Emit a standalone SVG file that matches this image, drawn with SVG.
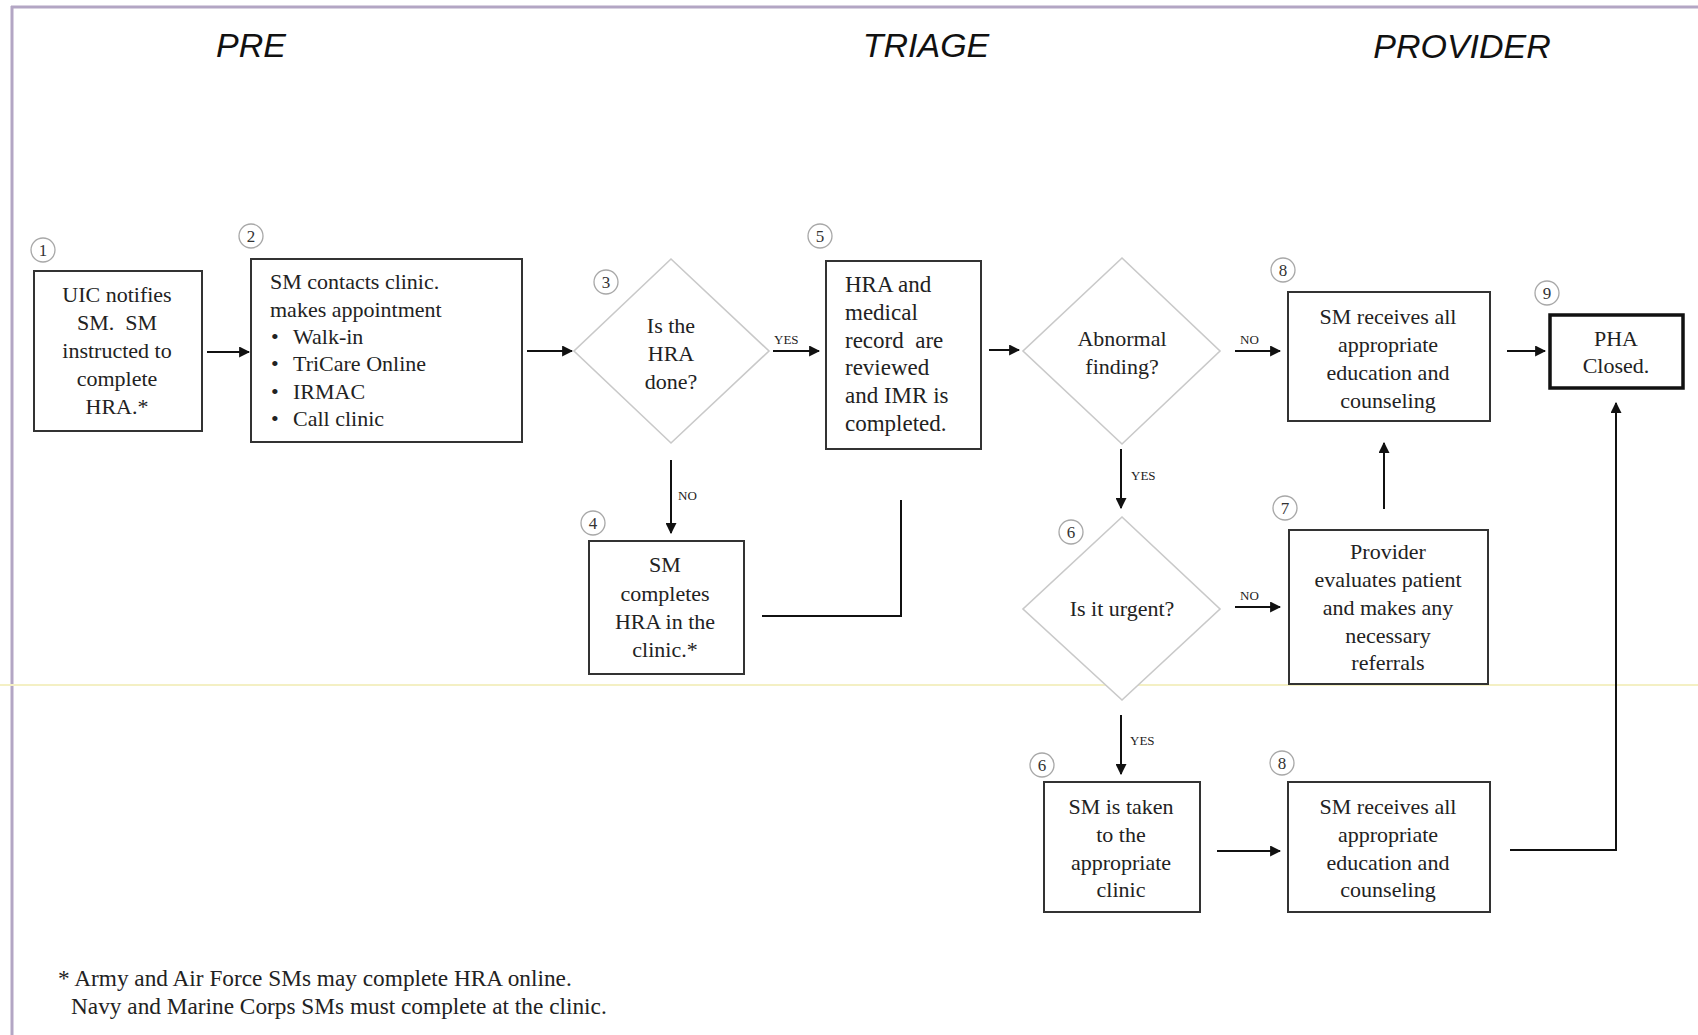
<svg xmlns="http://www.w3.org/2000/svg" width="1698" height="1035" viewBox="0 0 1698 1035">
<defs>
<marker id="ah" viewBox="0 0 10 10" refX="9" refY="5" markerWidth="5.5" markerHeight="5.5" orient="auto" markerUnits="strokeWidth">
<path d="M0,0 L10,5 L0,10 z" fill="#111"/>
</marker>
<style>
.box{fill:#fff;stroke:#333;stroke-width:2}
.dia{fill:#fff;stroke:#c9c9c9;stroke-width:1.6}
.t{font-family:"Liberation Serif",serif;font-size:22px;fill:#222}
.tc{text-anchor:middle}
.num{fill:#fff;stroke:#a8a8a8;stroke-width:1.3}
.nt{font-family:"Liberation Serif",serif;font-size:17px;fill:#333;text-anchor:middle}
.lbl{font-family:"Liberation Serif",serif;font-size:13px;fill:#222}
.hd{font-family:"Liberation Sans",sans-serif;font-style:italic;font-size:34px;fill:#111;text-anchor:middle}
.c{fill:none;stroke:#111;stroke-width:2}
.pre{white-space:pre}
</style>
</defs>
<rect width="1698" height="1035" fill="#fff"/>
<!-- frame -->
<line x1="11" y1="7" x2="1698" y2="7" stroke="#b3a6c4" stroke-width="3"/>
<line x1="12" y1="6" x2="12" y2="1035" stroke="#b3a6c4" stroke-width="3"/>
<line x1="0" y1="685" x2="1698" y2="685" stroke="#f4f0c4" stroke-width="2"/>
<!-- headers -->
<text class="hd" x="251" y="57">PRE</text>
<text class="hd" x="926" y="57">TRIAGE</text>
<text class="hd" x="1462" y="58">PROVIDER</text>

<!-- connectors -->
<g id="connectors">
<line class="c" x1="207" y1="352" x2="249" y2="352" marker-end="url(#ah)"/>
<line class="c" x1="527" y1="351" x2="572" y2="351" marker-end="url(#ah)"/>
<line class="c" x1="773" y1="351" x2="819" y2="351" marker-end="url(#ah)"/>
<text class="lbl" x="774" y="344">YES</text>
<line class="c" x1="671" y1="460" x2="671" y2="533" marker-end="url(#ah)"/>
<text class="lbl" x="678" y="500">NO</text>
<polyline class="c" points="762,616 901,616 901,500"/>
<line class="c" x1="989" y1="350" x2="1019" y2="350" marker-end="url(#ah)"/>
<line class="c" x1="1235" y1="351" x2="1280" y2="351" marker-end="url(#ah)"/>
<text class="lbl" x="1240" y="344">NO</text>
<line class="c" x1="1507" y1="351" x2="1545" y2="351" marker-end="url(#ah)"/>
<line class="c" x1="1121" y1="449" x2="1121" y2="508" marker-end="url(#ah)"/>
<text class="lbl" x="1131" y="480">YES</text>
<line class="c" x1="1235" y1="607" x2="1280" y2="607" marker-end="url(#ah)"/>
<text class="lbl" x="1240" y="600">NO</text>
<line class="c" x1="1384" y1="509" x2="1384" y2="443" marker-end="url(#ah)"/>
<line class="c" x1="1121" y1="715" x2="1121" y2="774" marker-end="url(#ah)"/>
<text class="lbl" x="1130" y="745">YES</text>
<line class="c" x1="1217" y1="851" x2="1280" y2="851" marker-end="url(#ah)"/>
<polyline class="c" points="1510,850 1616,850 1616,403" marker-end="url(#ah)"/>
</g>

<g id="n1">
<rect class="box" x="34" y="271" width="168" height="160"/>
<circle class="num" cx="43" cy="250" r="12"/><text class="nt" x="43" y="256">1</text>
<text class="t tc" x="117" y="302">UIC notifies</text>
<text class="t tc pre" x="117" y="330">SM.  SM</text>
<text class="t tc" x="117" y="358">instructed to</text>
<text class="t tc" x="117" y="386">complete</text>
<text class="t tc" x="117" y="414">HRA.*</text>
</g>

<g id="n2">
<rect class="box" x="251" y="259" width="271" height="183"/>
<circle class="num" cx="251" cy="236" r="12"/><text class="nt" x="251" y="242">2</text>
<text class="t" x="270" y="289">SM contacts clinic.</text>
<text class="t" x="270" y="317">makes appointment</text>
<text class="t" x="271" y="344">•</text><text class="t" x="293" y="344">Walk-in</text>
<text class="t" x="271" y="371">•</text><text class="t" x="293" y="371">TriCare Online</text>
<text class="t" x="271" y="399">•</text><text class="t" x="293" y="399">IRMAC</text>
<text class="t" x="271" y="426">•</text><text class="t" x="293" y="426">Call clinic</text>
</g>

<g id="n3">
<polygon class="dia" points="671,259 769,351 671,443 574,351"/>
<circle class="num" cx="606" cy="282" r="12"/><text class="nt" x="606" y="288">3</text>
<text class="t tc" x="671" y="333">Is the</text>
<text class="t tc" x="671" y="361">HRA</text>
<text class="t tc" x="671" y="389">done?</text>
</g>

<g id="n4">
<rect class="box" x="589" y="541" width="155" height="133"/>
<circle class="num" cx="593" cy="523" r="12"/><text class="nt" x="593" y="529">4</text>
<text class="t tc" x="665" y="572">SM</text>
<text class="t tc" x="665" y="601">completes</text>
<text class="t tc" x="665" y="629">HRA in the</text>
<text class="t tc" x="665" y="657">clinic.*</text>
</g>

<g id="n5">
<rect class="box" x="826" y="261" width="155" height="188"/>
<circle class="num" cx="820" cy="236" r="12"/><text class="nt" x="820" y="242">5</text>
<text class="t" x="845" y="292" style="font-size:23px">HRA and</text>
<text class="t" x="845" y="320" style="font-size:23px">medical</text>
<text class="t pre" x="845" y="348" style="font-size:23px">record  are</text>
<text class="t" x="845" y="375" style="font-size:23px">reviewed</text>
<text class="t" x="845" y="403" style="font-size:23px">and IMR is</text>
<text class="t" x="845" y="431" style="font-size:23px">completed.</text>
</g>

<g id="n6a">
<polygon class="dia" points="1122,258 1220,351 1122,444 1023,351"/>
<text class="t tc" x="1122" y="346">Abnormal</text>
<text class="t tc" x="1122" y="374">finding?</text>
</g>

<g id="n6b">
<polygon class="dia" points="1122,517 1220,609 1122,700 1023,609"/>
<circle class="num" cx="1071" cy="532" r="12"/><text class="nt" x="1071" y="538">6</text>
<text class="t tc" x="1122" y="616">Is it urgent?</text>
</g>

<g id="n6c">
<rect class="box" x="1044" y="782" width="156" height="130"/>
<circle class="num" cx="1042" cy="765" r="12"/><text class="nt" x="1042" y="771">6</text>
<text class="t tc" x="1121" y="814">SM is taken</text>
<text class="t tc" x="1121" y="842">to the</text>
<text class="t tc" x="1121" y="870">appropriate</text>
<text class="t tc" x="1121" y="897">clinic</text>
</g>

<g id="n7">
<rect class="box" x="1289" y="530" width="199" height="154"/>
<circle class="num" cx="1285" cy="508" r="12"/><text class="nt" x="1285" y="514">7</text>
<text class="t tc" x="1388" y="559">Provider</text>
<text class="t tc" x="1388" y="587">evaluates patient</text>
<text class="t tc" x="1388" y="615">and makes any</text>
<text class="t tc" x="1388" y="643">necessary</text>
<text class="t tc" x="1388" y="670">referrals</text>
</g>

<g id="n8a">
<rect class="box" x="1288" y="292" width="202" height="129"/>
<circle class="num" cx="1283" cy="270" r="12"/><text class="nt" x="1283" y="276">8</text>
<text class="t tc" x="1388" y="324">SM receives all</text>
<text class="t tc" x="1388" y="352">appropriate</text>
<text class="t tc" x="1388" y="380">education and</text>
<text class="t tc" x="1388" y="408">counseling</text>
</g>

<g id="n8b">
<rect class="box" x="1288" y="782" width="202" height="130"/>
<circle class="num" cx="1282" cy="763" r="12"/><text class="nt" x="1282" y="769">8</text>
<text class="t tc" x="1388" y="814">SM receives all</text>
<text class="t tc" x="1388" y="842">appropriate</text>
<text class="t tc" x="1388" y="870">education and</text>
<text class="t tc" x="1388" y="897">counseling</text>
</g>

<g id="n9">
<rect x="1550" y="315" width="133" height="73" fill="#fff" stroke="#111" stroke-width="3.5"/>
<circle class="num" cx="1547" cy="293" r="12"/><text class="nt" x="1547" y="299">9</text>
<text class="t tc" x="1616" y="346">PHA</text>
<text class="t tc" x="1616" y="373">Closed.</text>
</g>

<g id="footnote">
<text class="t" x="58" y="986" style="font-size:23.3px">* Army and Air Force SMs may complete HRA online.</text>
<text class="t" x="71" y="1014" style="font-size:23.3px">Navy and Marine Corps SMs must complete at the clinic.</text>
</g>
</svg>
